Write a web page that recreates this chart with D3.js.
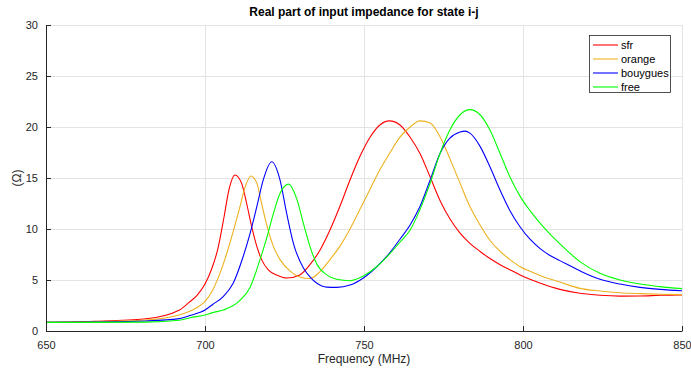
<!DOCTYPE html>
<html>
<head>
<meta charset="utf-8">
<script src="https://cdn.jsdelivr.net/npm/d3@7"></script>
<style>
  body { margin: 0; background: #fff; }
  svg { font-family: "Liberation Sans", Arial, sans-serif; }
  .grid line { stroke: #e3e3e3; stroke-width: 1; }
  .axis path, .axis line { stroke: #262626; }
  .axis text { fill: #262626; font-size: 11px; }
</style>
</head>
<body>
<svg id="chart" width="691" height="371"></svg>
<script>
(function(d3) {
	'use strict';

	/** data */
	var seriesNames = ['sfr', 'orange', 'bouygues', 'free'];
	var seriesColors = ['#ff0000', '#edb120', '#0000ff', '#00ff00'];

	var sfrFreq = [650, 665, 681.4, 692, 695, 697.5, 700, 702, 704, 706, 707.5, 709.4, 711.5, 713.1, 714.7, 716.3, 717.8, 719.9, 722.5, 725.8, 729.8, 733, 736.1, 739.3, 742.4, 745.6, 748.7, 751.9, 755, 758, 761.3, 764.5, 767.6, 770.8, 773.9, 777, 780.2, 783.3, 786.5, 789.6, 792.8, 795.9, 799.1, 802.2, 805.3, 811.6, 817.9, 824.2, 830.5, 836.8, 843.1, 850];
	var sfrZ = [0.85, 0.95, 1.2, 2.06, 2.8, 3.5, 4.6, 6.0, 8.0, 11.2, 13.8, 15.3, 14.5, 12.5, 10.2, 8.3, 7.0, 6.0, 5.5, 5.2, 5.5, 6.5, 7.9, 9.9, 12.2, 14.8, 17.1, 19.0, 20.2, 20.6, 20.2, 19.0, 17.4, 15.1, 12.8, 11.0, 9.6, 8.6, 7.8, 7.1, 6.5, 6.0, 5.5, 5.07, 4.7, 4.08, 3.7, 3.5, 3.42, 3.43, 3.5, 3.53];

	var orangeFreq = [650, 665, 681.4, 691.9, 695, 697.5, 700, 702.4, 705.8, 708.9, 711, 712.6, 714.4, 716.3, 717.8, 719.4, 721.5, 723.6, 726.7, 729.8, 733, 736.1, 739.3, 742.4, 745.6, 748.7, 751.9, 755, 758.2, 761.3, 764.5, 767.6, 770.8, 773.9, 777, 780.2, 783.3, 786.5, 789.6, 792.8, 795.9, 799.1, 802.2, 805.3, 808.5, 811.6, 817.9, 824.2, 830.5, 836.8, 843.1, 850];
	var orangeZ = [0.85, 0.9, 1.08, 1.57, 1.9, 2.3, 2.9, 4.0, 6.6, 9.8, 12.2, 14.1, 15.2, 14.5, 12.5, 10.4, 8.3, 7.0, 5.9, 5.3, 5.15, 5.8, 7.0, 8.3, 10.0, 11.9, 13.9, 15.8, 17.5, 19.0, 20.0, 20.6, 20.4, 19.05, 16.9, 14.5, 12.2, 10.4, 8.9, 7.8, 7.0, 6.3, 5.85, 5.45, 5.1, 4.8, 4.18, 3.92, 3.75, 3.66, 3.6, 3.56];

	var bouyguesFreq = [650, 665, 681.4, 691.9, 695, 700, 702.4, 705.8, 708.9, 712, 714.2, 716.3, 718.3, 721, 723.6, 725.7, 727.8, 730.9, 733, 735.1, 738.3, 741.4, 745.6, 749.8, 754, 758.2, 761.3, 764.5, 767.6, 770.8, 773.9, 777, 780.2, 781.8, 783.3, 786.5, 789.6, 792.8, 795.9, 799.1, 802.2, 805.3, 808.5, 811.6, 817.9, 824.2, 830.5, 836.8, 843.1, 850];
	var bouyguesZ = [0.85, 0.88, 0.98, 1.21, 1.5, 2.05, 2.6, 3.4, 4.7, 7.3, 9.6, 12.2, 14.8, 16.6, 14.8, 11.5, 8.6, 6.2, 5.3, 4.7, 4.3, 4.28, 4.5, 5.2, 6.3, 7.7, 9.0, 10.4, 12.2, 14.8, 17.4, 18.9, 19.5, 19.6, 19.4, 18.1, 16.1, 13.8, 11.8, 10.2, 9.0, 8.1, 7.4, 6.9, 5.9, 5.07, 4.6, 4.28, 4.08, 3.95];

	var freeFreq = [650, 665, 681.4, 691.9, 695.3, 700, 702.4, 705.8, 711, 714.2, 717.3, 719.4, 721.5, 723.6, 726.3, 728.8, 730.9, 733, 735.1, 738.3, 741.4, 745.6, 749.8, 754, 758.2, 761.3, 764.5, 767.6, 770.8, 773.9, 777, 780.2, 783.3, 786.5, 789.6, 792.8, 795.9, 799.1, 802.2, 805.3, 808.5, 811.6, 817.9, 824.2, 830.5, 836.8, 843.1, 850];
	var freeZ = [0.85, 0.85, 0.87, 1.05, 1.3, 1.57, 1.8, 2.06, 3.0, 4.3, 7.0, 9.1, 11.5, 13.5, 14.4, 13.0, 10.6, 8.3, 6.6, 5.5, 5.07, 4.93, 5.4, 6.3, 7.6, 8.7, 9.9, 11.9, 14.5, 17.4, 19.7, 21.2, 21.7, 21.2, 19.7, 17.4, 15.1, 13.2, 11.8, 10.6, 9.5, 8.55, 6.8, 5.65, 5.0, 4.6, 4.35, 4.15];

	var xTicks = [650, 700, 750, 800, 850];
	var yTicks = [0, 5, 10, 15, 20, 25, 30];

	var seriesFreq = [sfrFreq, orangeFreq, bouyguesFreq, freeFreq];
	var seriesZ = [sfrZ, orangeZ, bouyguesZ, freeZ];

	/** layout */
	var svg = d3.select('#chart');
	var margin = {top: 25, right: 9, bottom: 40, left: 46};
	var width = 691 - margin.left - margin.right;
	var height = 371 - margin.top - margin.bottom;

	var x = d3.scaleLinear().domain([650, 850]).range([0, width]);
	var y = d3.scaleLinear().domain([0, 30]).range([height, 0]);

	var g = svg.append('g').attr('transform', 'translate(' + margin.left + ',' + margin.top + ')');

	/** grid */
	var grid = g.append('g').attr('class', 'grid');
	grid.selectAll('.gx').data(xTicks).enter().append('line')
		.attr('x1', function(d) { return Math.round(x(d)) + 0.5; })
		.attr('x2', function(d) { return Math.round(x(d)) + 0.5; })
		.attr('y1', 0).attr('y2', height);
	grid.selectAll('.gy').data(yTicks).enter().append('line')
		.attr('y1', function(d) { return Math.round(y(d)) + 0.5; })
		.attr('y2', function(d) { return Math.round(y(d)) + 0.5; })
		.attr('x1', 0).attr('x2', width);

	/** curves */
	var line = d3.line()
		.x(function(d) { return x(d[0]); })
		.y(function(d) { return y(d[1]); })
		.curve(d3.curveMonotoneX);

	seriesNames.forEach(function(name, i) {
		var pts = d3.zip(seriesFreq[i], seriesZ[i]);
		g.append('path')
			.datum(pts)
			.attr('fill', 'none')
			.attr('stroke', seriesColors[i])
			.attr('stroke-width', 1.1)
			.attr('d', line);
	});

	/** axes, ticks pointing inward */
	g.append('g').attr('class', 'axis')
		.attr('transform', 'translate(0,' + height + ')')
		.call(d3.axisBottom(x).tickValues(xTicks).tickSize(-5).tickSizeOuter(0).tickPadding(10));
	g.append('g').attr('class', 'axis')
		.call(d3.axisLeft(y).tickValues(yTicks).tickSize(-5).tickSizeOuter(0).tickPadding(8));

	/** labels */
	svg.append('text')
		.attr('x', margin.left + width / 2).attr('y', 16)
		.attr('text-anchor', 'middle')
		.style('font-size', '12px').style('font-weight', 'bold').style('fill', '#000')
		.text('Real part of input impedance for state i-j');
	svg.append('text')
		.attr('x', margin.left + width / 2).attr('y', 363)
		.attr('text-anchor', 'middle')
		.style('font-size', '12px').style('fill', '#262626')
		.text('Frequency (MHz)');
	svg.append('text')
		.attr('transform', 'translate(21,' + (margin.top + height / 2) + ') rotate(-90)')
		.attr('text-anchor', 'middle')
		.style('font-size', '12px').style('fill', '#262626')
		.text('(Ω)');

	/** legend */
	var legend = svg.append('g').attr('transform', 'translate(589,35)');
	legend.append('rect')
		.attr('x', 0.5).attr('y', 0.5).attr('width', 81).attr('height', 57)
		.attr('fill', '#fff').attr('stroke', '#262626').attr('stroke-width', 0.8);
	var items = legend.selectAll('.item').data(seriesNames).enter().append('g')
		.attr('transform', function(d, i) { return 'translate(0,' + (10 + i * 14) + ')'; });
	items.append('line')
		.attr('x1', 4).attr('x2', 29).attr('y1', 0).attr('y2', 0)
		.attr('stroke', function(d, i) { return seriesColors[i]; })
		.attr('stroke-width', 1.1);
	items.append('text')
		.attr('x', 32).attr('y', 4)
		.style('font-size', '11px').style('fill', '#000')
		.text(function(d) { return d; });
})(d3);
</script>
</body>
</html>
